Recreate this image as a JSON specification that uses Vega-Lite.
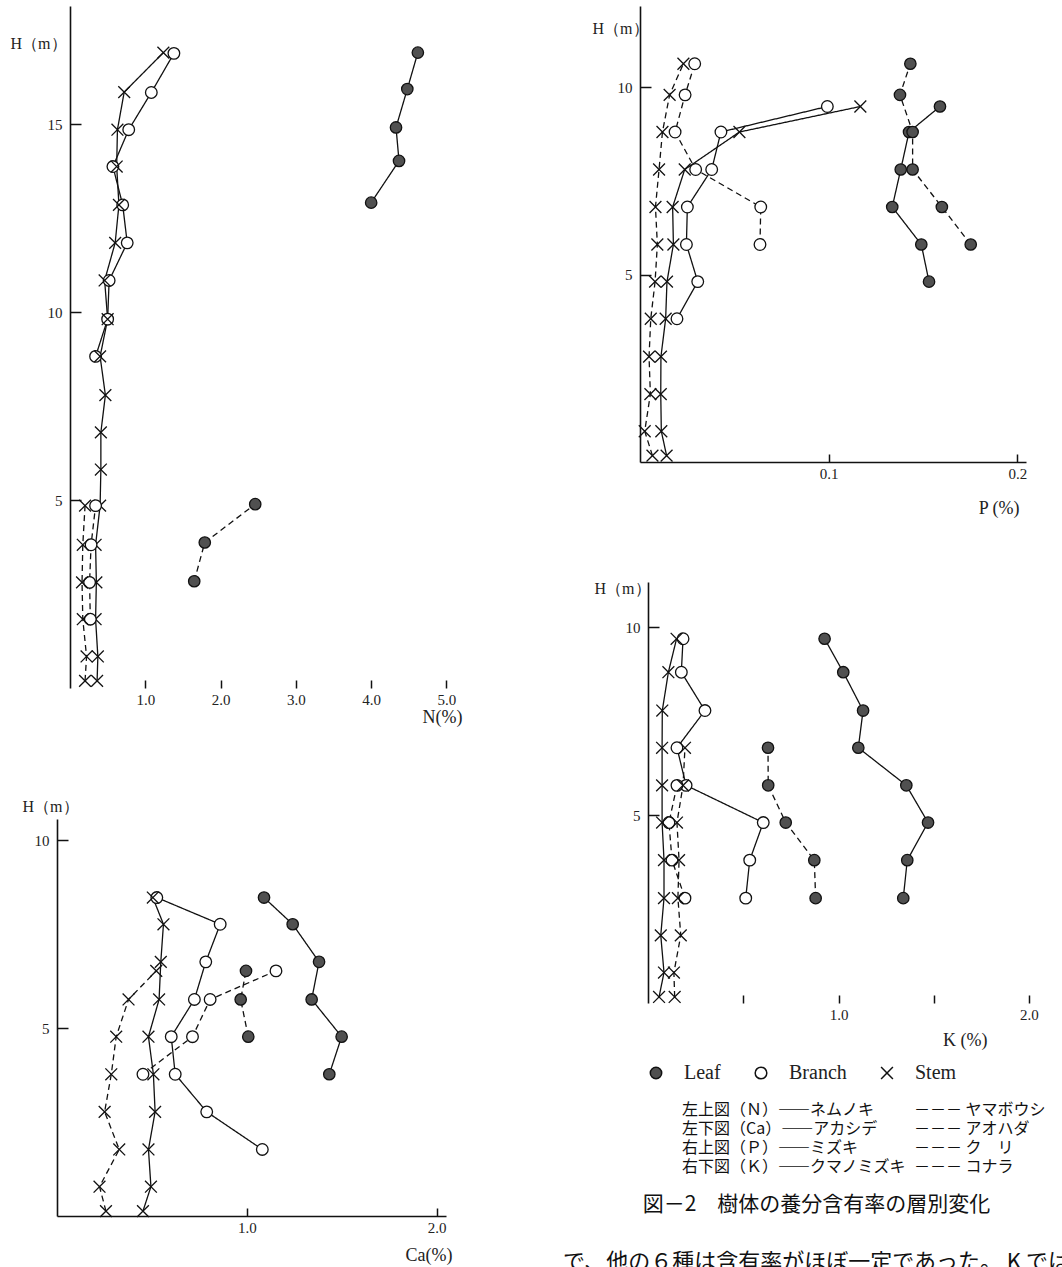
{
"$schema":"https://vega.github.io/schema/vega-lite/v6.json",
"padding":{"left":10,"top":6,"right":0,"bottom":0},
"background":"white",
"config":{"view":{"stroke":null},"font":"Liberation Serif",
"axis":{"domainColor":"#111","domainWidth":1.6,"tickColor":"#111","tickWidth":1.5,"grid":false,"labelFont":"Liberation Serif","labelFontSize":15,"labelColor":"#222","titleFont":"Liberation Serif","titleFontWeight":"normal","titleColor":"#222","titleFontSize":17},
"axisX":{"tickSize":-8,"labelPadding":12,"labelBaseline":"top"},
"axisY":{"tickSize":-11,"labelPadding":19},
"legend":{"orient":"none","legendX":589,"legendY":1057,"direction":"horizontal","labelFont":"Liberation Serif","labelFontSize":20,"labelColor":"#222","labelOffset":18,"columnPadding":30,"padding":0}},
"datasets":{"d":[
{"p":"N","s":"solid","o":"Leaf","h":16.9,"v":4.62},{"p":"N","s":"solid","o":"Leaf","h":15.93,"v":4.48},{"p":"N","s":"solid","o":"Leaf","h":14.91,"v":4.33},{"p":"N","s":"solid","o":"Leaf","h":14.02,"v":4.37},{"p":"N","s":"solid","o":"Leaf","h":12.91,"v":4.0},
{"p":"N","s":"solid","o":"Branch","h":16.88,"v":1.38},{"p":"N","s":"solid","o":"Branch","h":15.84,"v":1.08},{"p":"N","s":"solid","o":"Branch","h":14.85,"v":0.78},{"p":"N","s":"solid","o":"Branch","h":13.87,"v":0.57},{"p":"N","s":"solid","o":"Branch","h":12.85,"v":0.7},{"p":"N","s":"solid","o":"Branch","h":11.84,"v":0.76},{"p":"N","s":"solid","o":"Branch","h":10.84,"v":0.52},{"p":"N","s":"solid","o":"Branch","h":9.81,"v":0.5},{"p":"N","s":"solid","o":"Branch","h":8.82,"v":0.34},
{"p":"N","s":"solid","o":"Stem","h":16.9,"v":1.24},{"p":"N","s":"solid","o":"Stem","h":15.85,"v":0.72},{"p":"N","s":"solid","o":"Stem","h":14.85,"v":0.63},{"p":"N","s":"solid","o":"Stem","h":13.87,"v":0.62},{"p":"N","s":"solid","o":"Stem","h":12.85,"v":0.65},{"p":"N","s":"solid","o":"Stem","h":11.84,"v":0.6},{"p":"N","s":"solid","o":"Stem","h":10.84,"v":0.46},{"p":"N","s":"solid","o":"Stem","h":9.81,"v":0.5},{"p":"N","s":"solid","o":"Stem","h":8.82,"v":0.4},{"p":"N","s":"solid","o":"Stem","h":7.79,"v":0.47},{"p":"N","s":"solid","o":"Stem","h":6.8,"v":0.41},{"p":"N","s":"solid","o":"Stem","h":5.81,"v":0.41},{"p":"N","s":"solid","o":"Stem","h":4.85,"v":0.4},{"p":"N","s":"solid","o":"Stem","h":3.81,"v":0.34},{"p":"N","s":"solid","o":"Stem","h":2.81,"v":0.35},{"p":"N","s":"solid","o":"Stem","h":1.83,"v":0.34},{"p":"N","s":"solid","o":"Stem","h":0.84,"v":0.37},{"p":"N","s":"solid","o":"Stem","h":0.19,"v":0.36},
{"p":"N","s":"dashed","o":"Leaf","h":4.89,"v":2.46},{"p":"N","s":"dashed","o":"Leaf","h":3.87,"v":1.79},{"p":"N","s":"dashed","o":"Leaf","h":2.84,"v":1.65},
{"p":"N","s":"dashed","o":"Branch","h":4.85,"v":0.34},{"p":"N","s":"dashed","o":"Branch","h":3.81,"v":0.28},{"p":"N","s":"dashed","o":"Branch","h":2.81,"v":0.26},{"p":"N","s":"dashed","o":"Branch","h":1.83,"v":0.27},
{"p":"N","s":"dashed","o":"Stem","h":4.85,"v":0.2},{"p":"N","s":"dashed","o":"Stem","h":3.81,"v":0.17},{"p":"N","s":"dashed","o":"Stem","h":2.81,"v":0.16},{"p":"N","s":"dashed","o":"Stem","h":1.83,"v":0.17},{"p":"N","s":"dashed","o":"Stem","h":0.84,"v":0.22},{"p":"N","s":"dashed","o":"Stem","h":0.19,"v":0.2},
{"p":"P","s":"solid","o":"Leaf","h":9.48,"v":0.159},{"p":"P","s":"solid","o":"Leaf","h":8.8,"v":0.1426},{"p":"P","s":"solid","o":"Leaf","h":7.8,"v":0.1382},{"p":"P","s":"solid","o":"Leaf","h":6.8,"v":0.1337},{"p":"P","s":"solid","o":"Leaf","h":5.8,"v":0.1491},{"p":"P","s":"solid","o":"Leaf","h":4.81,"v":0.1532},
{"p":"P","s":"dashed","o":"Leaf","h":10.62,"v":0.1433},{"p":"P","s":"dashed","o":"Leaf","h":9.79,"v":0.1378},{"p":"P","s":"dashed","o":"Leaf","h":8.8,"v":0.1445},{"p":"P","s":"dashed","o":"Leaf","h":7.8,"v":0.1445},{"p":"P","s":"dashed","o":"Leaf","h":6.8,"v":0.16},{"p":"P","s":"dashed","o":"Leaf","h":5.8,"v":0.1753},
{"p":"P","s":"solid","o":"Branch","h":9.48,"v":0.0993},{"p":"P","s":"solid","o":"Branch","h":8.8,"v":0.0429},{"p":"P","s":"solid","o":"Branch","h":7.8,"v":0.038},{"p":"P","s":"solid","o":"Branch","h":6.8,"v":0.0251},{"p":"P","s":"solid","o":"Branch","h":5.8,"v":0.0246},{"p":"P","s":"solid","o":"Branch","h":4.81,"v":0.0306},{"p":"P","s":"solid","o":"Branch","h":3.82,"v":0.0196},
{"p":"P","s":"solid","o":"Stem","h":9.48,"v":0.1168},{"p":"P","s":"solid","o":"Stem","h":8.8,"v":0.0527},{"p":"P","s":"solid","o":"Stem","h":7.8,"v":0.0237},{"p":"P","s":"solid","o":"Stem","h":6.8,"v":0.0173},{"p":"P","s":"solid","o":"Stem","h":5.8,"v":0.0177},{"p":"P","s":"solid","o":"Stem","h":4.81,"v":0.0143},{"p":"P","s":"solid","o":"Stem","h":3.82,"v":0.0136},{"p":"P","s":"solid","o":"Stem","h":2.81,"v":0.0111},{"p":"P","s":"solid","o":"Stem","h":1.81,"v":0.011},{"p":"P","s":"solid","o":"Stem","h":0.82,"v":0.0113},{"p":"P","s":"solid","o":"Stem","h":0.17,"v":0.0141},
{"p":"P","s":"dashed","o":"Branch","h":10.62,"v":0.029},{"p":"P","s":"dashed","o":"Branch","h":9.79,"v":0.0239},{"p":"P","s":"dashed","o":"Branch","h":8.8,"v":0.0186},{"p":"P","s":"dashed","o":"Branch","h":7.8,"v":0.0295},{"p":"P","s":"dashed","o":"Branch","h":6.8,"v":0.064},{"p":"P","s":"dashed","o":"Branch","h":5.8,"v":0.0636},
{"p":"P","s":"dashed","o":"Stem","h":10.62,"v":0.023},{"p":"P","s":"dashed","o":"Stem","h":9.79,"v":0.0157},{"p":"P","s":"dashed","o":"Stem","h":8.8,"v":0.0119},{"p":"P","s":"dashed","o":"Stem","h":7.8,"v":0.0101},{"p":"P","s":"dashed","o":"Stem","h":6.8,"v":0.0082},{"p":"P","s":"dashed","o":"Stem","h":5.8,"v":0.0092},{"p":"P","s":"dashed","o":"Stem","h":4.81,"v":0.008},{"p":"P","s":"dashed","o":"Stem","h":3.82,"v":0.0057},{"p":"P","s":"dashed","o":"Stem","h":2.81,"v":0.0048},{"p":"P","s":"dashed","o":"Stem","h":1.81,"v":0.0055},{"p":"P","s":"dashed","o":"Stem","h":0.82,"v":0.0025},{"p":"P","s":"dashed","o":"Stem","h":0.17,"v":0.0066},
{"p":"Ca","s":"solid","o":"Leaf","h":8.47,"v":1.091},{"p":"Ca","s":"solid","o":"Leaf","h":7.76,"v":1.242},{"p":"Ca","s":"solid","o":"Leaf","h":6.76,"v":1.381},{"p":"Ca","s":"solid","o":"Leaf","h":5.76,"v":1.342},{"p":"Ca","s":"solid","o":"Leaf","h":4.77,"v":1.5},{"p":"Ca","s":"solid","o":"Leaf","h":3.77,"v":1.435},
{"p":"Ca","s":"dashed","o":"Leaf","h":6.52,"v":0.996},{"p":"Ca","s":"dashed","o":"Leaf","h":5.76,"v":0.968},{"p":"Ca","s":"dashed","o":"Leaf","h":4.77,"v":1.008},
{"p":"Ca","s":"solid","o":"Branch","h":8.47,"v":0.526},{"p":"Ca","s":"solid","o":"Branch","h":7.76,"v":0.86},{"p":"Ca","s":"solid","o":"Branch","h":6.76,"v":0.784},{"p":"Ca","s":"solid","o":"Branch","h":5.76,"v":0.724},{"p":"Ca","s":"solid","o":"Branch","h":4.77,"v":0.602},{"p":"Ca","s":"solid","o":"Branch","h":3.77,"v":0.623},{"p":"Ca","s":"solid","o":"Branch","h":2.77,"v":0.789},{"p":"Ca","s":"solid","o":"Branch","h":1.77,"v":1.082},
{"p":"Ca","s":"dashed","o":"Branch","h":6.52,"v":1.154},{"p":"Ca","s":"dashed","o":"Branch","h":5.76,"v":0.807},{"p":"Ca","s":"dashed","o":"Branch","h":4.77,"v":0.714},{"p":"Ca","s":"dashed","o":"Branch","h":3.77,"v":0.453},
{"p":"Ca","s":"solid","o":"Stem","h":8.47,"v":0.505},{"p":"Ca","s":"solid","o":"Stem","h":7.76,"v":0.561},{"p":"Ca","s":"solid","o":"Stem","h":6.76,"v":0.547},{"p":"Ca","s":"solid","o":"Stem","h":5.76,"v":0.538},{"p":"Ca","s":"solid","o":"Stem","h":4.77,"v":0.482},{"p":"Ca","s":"solid","o":"Stem","h":3.77,"v":0.508},{"p":"Ca","s":"solid","o":"Stem","h":2.77,"v":0.517},{"p":"Ca","s":"solid","o":"Stem","h":1.77,"v":0.482},{"p":"Ca","s":"solid","o":"Stem","h":0.78,"v":0.495},{"p":"Ca","s":"solid","o":"Stem","h":0.13,"v":0.453},
{"p":"Ca","s":"dashed","o":"Stem","h":6.52,"v":0.523},{"p":"Ca","s":"dashed","o":"Stem","h":5.76,"v":0.377},{"p":"Ca","s":"dashed","o":"Stem","h":4.77,"v":0.312},{"p":"Ca","s":"dashed","o":"Stem","h":3.77,"v":0.286},{"p":"Ca","s":"dashed","o":"Stem","h":2.77,"v":0.251},{"p":"Ca","s":"dashed","o":"Stem","h":1.77,"v":0.328},{"p":"Ca","s":"dashed","o":"Stem","h":0.78,"v":0.224},{"p":"Ca","s":"dashed","o":"Stem","h":0.13,"v":0.258},
{"p":"K","s":"solid","o":"Leaf","h":9.69,"v":0.927},{"p":"K","s":"solid","o":"Leaf","h":8.8,"v":1.025},{"p":"K","s":"solid","o":"Leaf","h":7.78,"v":1.129},{"p":"K","s":"solid","o":"Leaf","h":6.79,"v":1.104},{"p":"K","s":"solid","o":"Leaf","h":5.79,"v":1.356},{"p":"K","s":"solid","o":"Leaf","h":4.8,"v":1.47},{"p":"K","s":"solid","o":"Leaf","h":3.8,"v":1.361},{"p":"K","s":"solid","o":"Leaf","h":2.79,"v":1.34},
{"p":"K","s":"dashed","o":"Leaf","h":6.79,"v":0.63},{"p":"K","s":"dashed","o":"Leaf","h":5.79,"v":0.631},{"p":"K","s":"dashed","o":"Leaf","h":4.8,"v":0.723},{"p":"K","s":"dashed","o":"Leaf","h":3.8,"v":0.873},{"p":"K","s":"dashed","o":"Leaf","h":2.79,"v":0.88},
{"p":"K","s":"solid","o":"Branch","h":9.69,"v":0.184},{"p":"K","s":"solid","o":"Branch","h":8.8,"v":0.175},{"p":"K","s":"solid","o":"Branch","h":7.78,"v":0.299},{"p":"K","s":"solid","o":"Branch","h":6.79,"v":0.152},{"p":"K","s":"solid","o":"Branch","h":5.79,"v":0.2},{"p":"K","s":"solid","o":"Branch","h":4.8,"v":0.605},{"p":"K","s":"solid","o":"Branch","h":3.8,"v":0.534},{"p":"K","s":"solid","o":"Branch","h":2.79,"v":0.513},
{"p":"K","s":"dashed","o":"Branch","h":5.79,"v":0.152},{"p":"K","s":"dashed","o":"Branch","h":4.8,"v":0.11},{"p":"K","s":"dashed","o":"Branch","h":3.8,"v":0.126},{"p":"K","s":"dashed","o":"Branch","h":2.79,"v":0.194},
{"p":"K","s":"solid","o":"Stem","h":9.69,"v":0.15},{"p":"K","s":"solid","o":"Stem","h":8.8,"v":0.107},{"p":"K","s":"solid","o":"Stem","h":7.78,"v":0.075},{"p":"K","s":"solid","o":"Stem","h":6.79,"v":0.074},{"p":"K","s":"solid","o":"Stem","h":5.79,"v":0.074},{"p":"K","s":"solid","o":"Stem","h":4.8,"v":0.074},{"p":"K","s":"solid","o":"Stem","h":3.8,"v":0.084},{"p":"K","s":"solid","o":"Stem","h":2.79,"v":0.084},{"p":"K","s":"solid","o":"Stem","h":1.8,"v":0.067},{"p":"K","s":"solid","o":"Stem","h":0.81,"v":0.084},{"p":"K","s":"solid","o":"Stem","h":0.16,"v":0.058},
{"p":"K","s":"dashed","o":"Stem","h":6.79,"v":0.194},{"p":"K","s":"dashed","o":"Stem","h":5.79,"v":0.184},{"p":"K","s":"dashed","o":"Stem","h":4.8,"v":0.152},{"p":"K","s":"dashed","o":"Stem","h":3.8,"v":0.163},{"p":"K","s":"dashed","o":"Stem","h":2.79,"v":0.157},{"p":"K","s":"dashed","o":"Stem","h":1.8,"v":0.172},{"p":"K","s":"dashed","o":"Stem","h":0.81,"v":0.136},{"p":"K","s":"dashed","o":"Stem","h":0.16,"v":0.14}
]},
"spacing":100,
"hconcat":[
{"bounds":"flush","spacing":131,"vconcat":[
  {"width":400,"height":682,"data":{"name":"d"},"transform":[{"filter":"datum.p==='N'"}],
   "encoding":{
    "x":{"field":"v","type":"quantitative","scale":{"domain":[-0.1726,5.14],"nice":false,"zero":false},"axis":{"values":[1,2,3,4,5],"format":".1f","domain":false,"title":"N(%)","titleX":405,"titleY":29,"titleAlign":"right","titleBaseline":"middle","titleFontSize":18}},
    "y":{"field":"h","type":"quantitative","scale":{"domain":[0,18.14],"nice":false},"axis":{"values":[5,10,15],"offset":-13,"title":"H（m）","titleAngle":0,"titleX":-60,"titleY":37,"titleAlign":"left","titleBaseline":"middle","titleFontSize":16}}},
   "layer":[
    {"data":{"values":[{}]},"mark":{"type":"rule","color":"#111","strokeWidth":1.6},"encoding":{"x":{"datum":0},"x2":{"datum":5.14},"y":{"datum":0}}},
    {"mark":{"type":"line","color":"#111","strokeWidth":1.3},"encoding":{"detail":[{"field":"s"},{"field":"o"}],"strokeDash":{"field":"s","type":"nominal","scale":{"domain":["solid","dashed"],"range":[[1,0],[6,4]]},"legend":null},"order":{"field":"h","type":"quantitative"}}},
    {"mark":{"type":"point","filled":true,"stroke":"#111","strokeWidth":1.3,"opacity":1},"encoding":{
     "shape":{"field":"o","type":"nominal","scale":{"domain":["Leaf","Branch","Stem"],"range":["circle","circle","M-1,-1L1,1M-1,1L1,-1"]},"legend":{"title":null}},
     "fill":{"field":"o","type":"nominal","scale":{"domain":["Leaf","Branch","Stem"],"range":["#505050","#ffffff","#111111"]},"legend":{"title":null}},
     "size":{"field":"o","type":"nominal","scale":{"domain":["Leaf","Branch","Stem"],"range":[130,140,60]},"legend":{"title":null}}}}
   ]},
 {"width":389,"height":397,"data":{"name":"d"},"transform":[{"filter":"datum.p==='Ca'"}],
   "encoding":{
    "x":{"field":"v","type":"quantitative","scale":{"domain":[0,2.05],"nice":false},"axis":{"values":[1,2],"format":".1f","title":"Ca(%)","titleX":395,"titleY":39,"titleAlign":"right","titleBaseline":"middle","titleFontSize":18}},
    "y":{"field":"h","type":"quantitative","scale":{"domain":[0,10.56],"nice":false},"axis":{"values":[5,10],"title":"H（m）","titleAngle":0,"titleX":-35,"titleY":-13,"titleAlign":"left","titleBaseline":"middle","titleFontSize":16}}},
   "layer":[
    {"mark":{"type":"line","color":"#111","strokeWidth":1.3},"encoding":{"detail":[{"field":"s"},{"field":"o"}],"strokeDash":{"field":"s","type":"nominal","scale":{"domain":["solid","dashed"],"range":[[1,0],[6,4]]},"legend":null},"order":{"field":"h","type":"quantitative"}}},
    {"mark":{"type":"point","filled":true,"stroke":"#111","strokeWidth":1.3,"opacity":1},"encoding":{
     "shape":{"field":"o","type":"nominal","scale":{"domain":["Leaf","Branch","Stem"],"range":["circle","circle","M-1,-1L1,1M-1,1L1,-1"]},"legend":{"title":null}},
     "fill":{"field":"o","type":"nominal","scale":{"domain":["Leaf","Branch","Stem"],"range":["#505050","#ffffff","#111111"]},"legend":{"title":null}},
     "size":{"field":"o","type":"nominal","scale":{"domain":["Leaf","Branch","Stem"],"range":[130,140,60]},"legend":{"title":null}}}}
   ]}
]},
{"bounds":"flush","spacing":120,"vconcat":[
  {"width":386,"height":456,"data":{"name":"d"},"transform":[{"filter":"datum.p==='P'"}],
   "encoding":{
    "x":{"field":"v","type":"quantitative","scale":{"domain":[0,0.2046],"nice":false},"axis":{"values":[0.1,0.2],"format":".1f","title":"P (%)","titleX":379,"titleY":46,"titleAlign":"right","titleBaseline":"middle","titleFontSize":18}},
    "y":{"field":"h","type":"quantitative","scale":{"domain":[0,12.16],"nice":false},"axis":{"values":[5,10],"title":"H（m）","titleAngle":0,"titleX":-48,"titleY":22,"titleAlign":"left","titleBaseline":"middle","titleFontSize":16}}},
   "layer":[
    {"mark":{"type":"line","color":"#111","strokeWidth":1.3},"encoding":{"detail":[{"field":"s"},{"field":"o"}],"strokeDash":{"field":"s","type":"nominal","scale":{"domain":["solid","dashed"],"range":[[1,0],[6,4]]},"legend":null},"order":{"field":"h","type":"quantitative"}}},
    {"mark":{"type":"point","filled":true,"stroke":"#111","strokeWidth":1.3,"opacity":1},"encoding":{
     "shape":{"field":"o","type":"nominal","scale":{"domain":["Leaf","Branch","Stem"],"range":["circle","circle","M-1,-1L1,1M-1,1L1,-1"]},"legend":{"title":null}},
     "fill":{"field":"o","type":"nominal","scale":{"domain":["Leaf","Branch","Stem"],"range":["#505050","#ffffff","#111111"]},"legend":{"title":null}},
     "size":{"field":"o","type":"nominal","scale":{"domain":["Leaf","Branch","Stem"],"range":[130,140,60]},"legend":{"title":null}}}}
   ]},
   {"width":397,"height":421,"data":{"name":"d"},"transform":[{"filter":"datum.p==='K'"}],
    "encoding":{
     "x":{"field":"v","type":"quantitative","scale":{"domain":[-0.042,2.042],"nice":false,"zero":false},"axis":{"values":[0.5,1,1.5,2],"domain":false,"labelExpr":"datum.value % 1 == 0 ? format(datum.value, '.1f') : ''","title":"K (%)","titleX":347,"titleY":37,"titleAlign":"right","titleBaseline":"middle","titleFontSize":18}},
     "y":{"field":"h","type":"quantitative","scale":{"domain":[0,11.2],"nice":false},"axis":{"values":[5,10],"offset":-8,"title":"H（m）","titleAngle":0,"titleX":-54,"titleY":6,"titleAlign":"left","titleBaseline":"middle","titleFontSize":16}}},
    "layer":[
     {"data":{"values":[{}]},"mark":{"type":"rule","color":"#111","strokeWidth":1.6},"encoding":{"x":{"datum":0},"x2":{"datum":2.042},"y":{"datum":0}}},
     {"mark":{"type":"line","color":"#111","strokeWidth":1.3},"encoding":{"detail":[{"field":"s"},{"field":"o"}],"strokeDash":{"field":"s","type":"nominal","scale":{"domain":["solid","dashed"],"range":[[1,0],[6,4]]},"legend":null},"order":{"field":"h","type":"quantitative"}}},
     {"mark":{"type":"point","filled":true,"stroke":"#111","strokeWidth":1.3,"opacity":1},"encoding":{
      "shape":{"field":"o","type":"nominal","scale":{"domain":["Leaf","Branch","Stem"],"range":["circle","circle","M-1,-1L1,1M-1,1L1,-1"]},"legend":{"title":null}},
      "fill":{"field":"o","type":"nominal","scale":{"domain":["Leaf","Branch","Stem"],"range":["#505050","#ffffff","#111111"]},"legend":{"title":null}},
      "size":{"field":"o","type":"nominal","scale":{"domain":["Leaf","Branch","Stem"],"range":[130,140,60]},"legend":{"title":null}}}}
    ]},
 {"width":353,"height":150,
  "layer":[
   {"data":{"values":[
     {"r":"N","L":"左上図（Ｎ）――ネムノキ","R":"－－－ ヤマボウシ"},
     {"r":"Ca","L":"左下図（Ca）――アカシデ","R":"－－－ アオハダ"},
     {"r":"P","L":"右上図（Ｐ）――ミズキ","R":"－－－ ク　リ"},
     {"r":"K","L":"右下図（Ｋ）――クマノミズキ","R":"－－－ コナラ"}]},
    "transform":[{"fold":["L","R"],"as":["k","t"]}],
    "mark":{"type":"text","align":"left","baseline":"middle","font":"Noto Sans CJK JP","fontSize":16,"color":"#111"},
    "encoding":{
     "x":{"field":"k","type":"nominal","scale":{"type":"point","domain":["L","R"],"range":[42,274],"padding":0},"axis":null},
     "y":{"field":"r","type":"nominal","scale":{"type":"point","domain":["N","Ca","P","K","g1","cap","g2","g3","body"],"range":[-13,139],"padding":0},"axis":null},
     "text":{"field":"t"}}},
   {"data":{"values":[{"r":"cap","t":"図－2　樹体の養分含有率の層別変化"}]},
    "mark":{"type":"text","align":"center","baseline":"middle","font":"Noto Sans CJK JP","fontSize":21,"color":"#111"},
    "encoding":{
     "y":{"field":"r","type":"nominal","scale":{"type":"point","domain":["N","Ca","P","K","g1","cap","g2","g3","body"],"range":[-13,139],"padding":0},"axis":null},
     "text":{"field":"t"}}},
   {"data":{"values":[{"r":"body","t":"で、他の６種は含有率がほぼ一定であった。 K では"}]},
    "mark":{"type":"text","align":"center","baseline":"middle","font":"Noto Sans CJK JP","fontSize":22,"color":"#111"},
    "encoding":{
     "y":{"field":"r","type":"nominal","scale":{"type":"point","domain":["N","Ca","P","K","g1","cap","g2","g3","body"],"range":[-13,139],"padding":0},"axis":null},
     "text":{"field":"t"}}}
  ]}
]}
]
}
